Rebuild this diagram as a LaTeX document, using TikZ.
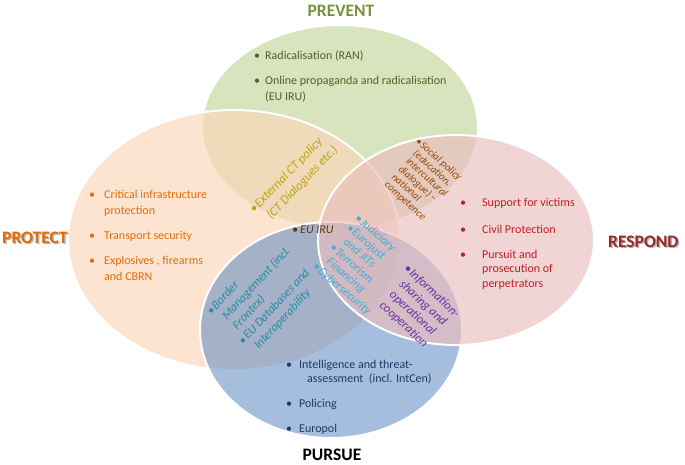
\documentclass[tikz,border=0pt]{standalone}
\usepackage{fontspec}
\setmainfont{Carlito}
\usepackage{array}
\definecolor{gfill}{RGB}{215,228,189}
\definecolor{ofill}{RGB}{252,214,183}
\definecolor{bfill}{RGB}{79,127,189}
\definecolor{pfill}{RGB}{235,189,189}
\definecolor{tgreen}{RGB}{79,98,40}
\definecolor{torange}{RGB}{228,108,10}
\definecolor{tred}{RGB}{192,30,40}
\definecolor{tnavy}{RGB}{31,56,100}
\definecolor{tolive}{RGB}{190,165,20}
\definecolor{tbrown}{RGB}{151,72,7}
\definecolor{teuiru}{RGB}{105,52,18}
\definecolor{tcyan}{RGB}{60,175,215}
\definecolor{tteal}{RGB}{40,138,168}
\definecolor{tpurple}{RGB}{112,48,160}
\definecolor{tprevent}{RGB}{119,147,60}
\definecolor{trespond}{RGB}{155,40,40}
\tikzset{
  venn/.style={draw=white, line width=2pt},
  lbl/.style={inner sep=0pt, anchor=base west, font=\fontsize{12}{16}\selectfont},
  bul/.style={inner sep=0pt, anchor=base, font=\fontsize{12}{16}\selectfont},
  ttl/.style={inner sep=0pt, font=\fontsize{17.5}{20}\selectfont\bfseries},
  rot/.style={inner sep=0pt, anchor=base west},
  shadowtxt/.style={ttl, text=black, text opacity=0.3},
}
\begin{document}
\begin{tikzpicture}[x=1pt,y=-1pt]
\useasboundingbox (0,0) rectangle (685,464);
\fill[white] (0,0) rectangle (685,464);
% ellipses
\draw[venn, fill=gfill] (340,127) ellipse [x radius=138, y radius=102];
\draw[venn, fill=ofill, fill opacity=0.65] (234,240) ellipse [x radius=166, y radius=130];
\draw[venn, fill=bfill, fill opacity=0.5] (331,330) ellipse [x radius=131, y radius=108];
\draw[venn, fill=pfill, fill opacity=0.65] (456,240) ellipse [x radius=138, y radius=105];

% titles
\node[ttl, anchor=base, text=tprevent] (tprev) at (341,16) {PREVENT};
\node[shadowtxt, anchor=base west] (tprots) at (3.5,244.5) {PROTECT};
\node[ttl, anchor=base west, text=torange] (tprot) at (2,243) {PROTECT};
\node[shadowtxt, anchor=base west] (tresps) at (609.5,248.5) {RESPOND};
\node[ttl, anchor=base west, text=trespond] (tresp) at (608,247) {RESPOND};
\node[ttl, anchor=base, text=black] (tpurs) at (332,460) {PURSUE};

% PREVENT items
\node[bul, text=tgreen] (gb1) at (257,59) {•};
\node[lbl, text=tgreen] (g1) at (265,59) {Radicalisation (RAN)};
\node[bul, text=tgreen] (gb2) at (257,84) {•};
\node[lbl, text=tgreen] (g2) at (265,84) {Online propaganda and radicalisation};
\node[lbl, text=tgreen] (g3) at (265,100) {(EU IRU)};

% PROTECT items
\node[bul, text=torange] (ob1) at (92,198) {•};
\node[lbl, text=torange] (o1) at (104,198) {Critical infrastructure};
\node[lbl, text=torange] (o2) at (104,214) {protection};
\node[bul, text=torange] (ob2) at (92,239) {•};
\node[lbl, text=torange] (o3) at (104,239) {Transport security};
\node[bul, text=torange] (ob3) at (92,264) {•};
\node[lbl, text=torange] (o4) at (104,264) {Explosives , firearms};
\node[lbl, text=torange] (o5) at (104,280) {and CBRN};

% RESPOND items
\node[bul, text=tred] (rb1) at (463,206) {•};
\node[lbl, text=tred] (r1) at (482,206) {Support for victims};
\node[bul, text=tred] (rb2) at (463,233) {•};
\node[lbl, text=tred] (r2) at (482,233) {Civil Protection};
\node[bul, text=tred] (rb3) at (463,258) {•};
\node[lbl, text=tred] (r3) at (482,258) {Pursuit and};
\node[lbl, text=tred] (r4) at (482,272) {prosecution of};
\node[lbl, text=tred] (r5) at (482,287) {perpetrators};

% PURSUE items
\node[bul, text=tnavy] (bb1) at (289,368) {•};
\node[lbl, text=tnavy] (b1) at (299,368) {Intelligence and threat-};
\node[lbl, text=tnavy] (b2) at (307,382) {assessment\ \ (incl. IntCen)};
\node[bul, text=tnavy] (bb2) at (289,407) {•};
\node[lbl, text=tnavy] (b3) at (299,407) {Policing};
\node[bul, text=tnavy] (bb3) at (289,432) {•};
\node[lbl, text=tnavy] (b4) at (299,432) {Europol};

% overlap items
\node[rot, rotate=46, text=tolive, font=\fontsize{12.8}{16.5}\selectfont\itshape] (extct) at (254.3,213.8)
  {\begin{tabular}[t]{@{}l@{\hspace{1pt}}l@{}}•&External CT policy\\&(CT Dialogues etc.)\end{tabular}};
\node[lbl, text=teuiru, font=\fontsize{12}{16}\selectfont\itshape] (euiru) at (292,233) {•\hspace{2pt}EU IRU};
\node[rot, rotate=-42, text=tbrown, font=\fontsize{10.5}{10.5}\selectfont\itshape] (social) at (414.9,142.2)
  {\begin{tabular}[t]{@{}l@{\hspace{1pt}}l@{}}•&Social policy\\&(education,\\&intercultural\\&dialogue) –\\&national\\&competence\end{tabular}};
\node[rot, rotate=-41, text=tcyan, font=\fontsize{12}{12.8}\selectfont\itshape] (judic) at (354.3,219.5)
  {\begin{tabular}[t]{@{}l@{\hspace{1pt}}l@{}}•&Judiciary\\•&Eurojust\\&and JITs\\•&Terrorism\\&Financing\\•&Cybersecurity\end{tabular}};
\node[rot, rotate=47, text=tteal, font=\fontsize{12.3}{14.5}\selectfont\itshape] (border) at (211.4,315.6)
  {\begin{tabular}[t]{@{}l@{\hspace{1pt}}l@{}}•&Border\\&Management (incl.\\&Frontex)\\•&EU Databases and\\&Interoperability\end{tabular}};
\node[rot, rotate=-43, text=tpurple, font=\fontsize{12.5}{14.5}\selectfont\itshape] (info) at (403.2,269.4)
  {\begin{tabular}[t]{@{}l@{\hspace{1pt}}l@{}}•&Information-\\&sharing and\\&operational\\&cooperation\end{tabular}};
\end{tikzpicture}
\end{document}
